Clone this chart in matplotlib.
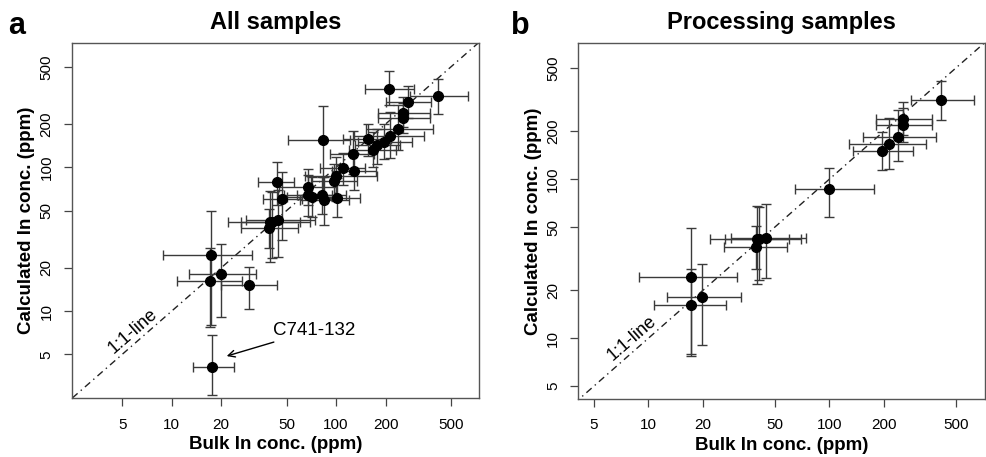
import matplotlib
matplotlib.use("Agg")
import matplotlib.pyplot as plt
import numpy as np

plt.rcParams['font.family'] = ['Liberation Sans', 'DejaVu Sans']

# ---- data (ppm) ----
bulk      = [17.5, 17.3, 17.1, 19.9, 29.6, 39.7, 40.7, 44.5, 39.3, 44.0, 46.9,
             67.8, 67.8, 71.1, 81.8, 84.9, 83.8, 101.9, 97.7, 100.0, 110.6, 129.0,
             127.4, 157.4, 167.0, 178.0, 196.0, 213.6, 239.0, 256.5, 257.0, 275.0,
             211.0, 416.0]
bulk_lo   = [13.4, 8.9, 10.7, 12.7, 20.0, 21.9, 26.5, 28.5, 26.3, 33.6, 36.0,
             45.0, 48.0, 50.0, 58.0, 60.0, 50.8, 72.0, 70.0, 64.6, 80.0, 95.0,
             92.0, 110.0, 120.0, 130.0, 135.7, 128.0, 152.8, 180.0, 180.0, 200.0,
             150.0, 282.6]
bulk_hi   = [24.0, 30.8, 26.7, 32.5, 43.5, 60.1, 69.7, 74.3, 58.6, 55.5, 62.0,
             100.0, 95.0, 98.0, 115.0, 120.0, 121.7, 140.0, 135.0, 177.0, 150.0, 175.0,
             170.0, 215.0, 230.0, 245.0, 291.0, 342.0, 387.0, 371.0, 371.0, 380.0,
             300.0, 632.0]
calc      = [4.1, 24.4, 16.2, 18.1, 15.1, 41.9, 41.9, 42.8, 37.7, 78.7, 59.8,
             73.3, 64.1, 62.4, 64.1, 59.1, 155.0, 61.4, 80.7, 86.9, 98.4, 94.6,
             123.0, 157.0, 133.0, 143.0, 150.7, 166.0, 185.0, 219.7, 238.0, 286.0,
             349.0, 314.0]
calc_lo   = [2.6, 8.0, 7.7, 9.1, 10.3, 22.0, 23.3, 23.8, 27.3, 55.0, 31.2,
             55.0, 46.0, 45.0, 47.0, 40.0, 62.0, 45.0, 60.0, 58.2, 75.0, 70.0,
             90.0, 120.0, 100.0, 105.0, 114.5, 115.6, 131.0, 172.0, 190.0, 220.0,
             270.0, 236.0]
calc_hi   = [6.8, 49.7, 27.3, 29.5, 20.1, 68.2, 67.2, 70.0, 50.9, 109.0, 93.0,
             97.0, 88.0, 85.0, 86.0, 86.0, 267.0, 84.0, 105.0, 118.0, 125.0, 125.0,
             180.0, 200.0, 175.0, 185.0, 199.5, 242.0, 273.0, 280.0, 307.0, 370.0,
             470.0, 415.0]
processing = [0, 1, 1, 1, 0, 1, 1, 1, 1, 0, 0,
              0, 0, 0, 0, 0, 0, 0, 0, 1, 0, 0,
              0, 0, 0, 0, 1, 1, 1, 1, 1, 0,
              0, 1]

tick_vals = [5, 10, 20, 50, 100, 200, 500]
tick_labels = ["5", "10", "20", "50", "100", "200", "500"]
titles = ["All samples", "Processing samples"]
panel_letters = ["a", "b"]

bulk = np.array(bulk); calc = np.array(calc)
bulk_lo = np.array(bulk_lo); bulk_hi = np.array(bulk_hi)
calc_lo = np.array(calc_lo); calc_hi = np.array(calc_hi)
proc = np.array(processing, dtype=bool)

fig = plt.figure(figsize=(9.87, 4.57), dpi=100)
ax1 = fig.add_axes([0.0726, 0.1284, 0.4127, 0.7782])
ax2 = fig.add_axes([0.5859, 0.1269, 0.4124, 0.7797])

limits = [((2.46, 741), (2.47, 737)), ((4.1, 728), (4.15, 722))]
line_text = [((5.84, 7.18)), ((8.1, 10.0))]

for i, (ax, mask) in enumerate([(ax1, np.ones_like(proc)), (ax2, proc)]):
    ax.set_xscale('log'); ax.set_yscale('log')
    (xl, yl) = limits[i]
    ax.set_xlim(*xl); ax.set_ylim(*yl)
    # 1:1 line
    lo = min(xl[0], yl[0]) * 0.5; hi = max(xl[1], yl[1]) * 2
    ax.plot([lo, hi], [lo, hi], color='#222222', lw=1.0, ls=(0, (5, 3, 1, 3)), zorder=1)
    x = bulk[mask]; y = calc[mask]
    xerr = np.vstack([x - bulk_lo[mask], bulk_hi[mask] - x])
    yerr = np.vstack([y - calc_lo[mask], calc_hi[mask] - y])
    ax.errorbar(x, y, xerr=xerr, yerr=yerr, fmt='none', ecolor='#3a3a3a',
                elinewidth=1.0, capsize=3.5, capthick=1.0, zorder=2)
    ax.plot(x, y, 'o', color='black', markersize=7, zorder=3)
    ax.set_xticks(tick_vals); ax.set_xticklabels(tick_labels)
    ax.set_yticks(tick_vals); ax.set_yticklabels(tick_labels)
    ax.minorticks_off()
    ax.tick_params(axis='both', which='major', direction='out', length=6,
                   width=0.9, color='#444444', labelsize=11, pad=8)
    ax.tick_params(axis='y', labelrotation=90, pad=7)
    for lab in ax.get_yticklabels():
        lab.set_va('center')
    for sp in ax.spines.values():
        sp.set_color('#555555'); sp.set_linewidth(1.0)
    ax.set_xlabel("Bulk In conc. (ppm)", fontsize=13.5, fontweight='bold', labelpad=3)
    ax.set_ylabel("Calculated In conc. (ppm)", fontsize=13.5, fontweight='bold', labelpad=3)
    ax.set_title(titles[i], fontsize=17, fontweight='bold', pad=10)
    tx, ty = line_text[i]
    ax.text(tx, ty, "1:1-line", rotation=41, fontsize=13, ha='center', va='center')

ax1.annotate("C741-132", xy=(21.6, 4.86), xytext=(41.5, 7.38), fontsize=13.5,
             ha='left', va='center',
             arrowprops=dict(arrowstyle='->', color='black', lw=1.0,
                             shrinkA=2, shrinkB=0, mutation_scale=12))

fig.text(0.008, 0.925, panel_letters[0], fontsize=22, fontweight='bold')
fig.text(0.518, 0.925, panel_letters[1], fontsize=22, fontweight='bold')

fig.savefig("out.png", dpi=100)
